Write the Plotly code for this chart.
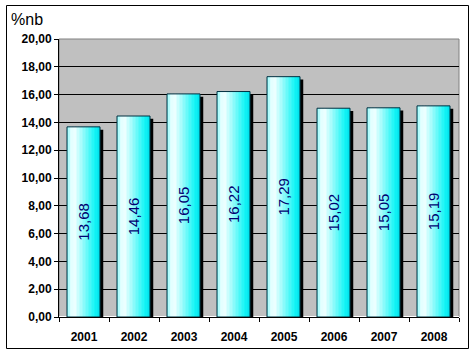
import plotly.graph_objects as go

years = ["2001", "2002", "2003", "2004", "2005", "2006", "2007", "2008"]
values = [13.68, 14.46, 16.05, 16.22, 17.29, 15.02, 15.05, 15.19]
y_title = "%nb"

W = 0.66
LEFT = -0.34
N = 22
stops = [(0.0, (120, 250, 250)), (0.12, (225, 255, 255)), (0.25, (235, 255, 255)),
         (0.85, (20, 245, 245)), (1.0, (0, 225, 235))]


def col(t):
    for (a, ca), (b, cb) in zip(stops[:-1], stops[1:]):
        if a <= t <= b:
            f = (t - a) / (b - a)
            c = [round(ca[k] + (cb[k] - ca[k]) * f) for k in range(3)]
            return f"rgb({c[0]},{c[1]},{c[2]})"
    return "rgb(0,255,255)"


fig = go.Figure()
# shadow
fig.add_trace(go.Bar(x=years, y=[v - 0.2 for v in values], width=W,
                     offset=LEFT + 0.065, marker=dict(color="#000000", line_width=0),
                     hoverinfo="skip"))
sw = W / N
for i in range(N):
    fig.add_trace(go.Bar(x=years, y=values, width=sw * 1.05, offset=LEFT + i * sw,
                         marker=dict(color=col((i + 0.5) / N), line_width=0),
                         hoverinfo="skip"))
# outline + labels
fig.add_trace(go.Bar(x=years, y=values, width=W, offset=LEFT,
                     marker=dict(color="rgba(0,0,0,0)", line=dict(color="#003040", width=1)),
                     texttemplate="%{y:.2f}", textposition="inside", textangle=-90,
                     insidetextanchor="middle", constraintext="none",
                     textfont=dict(family="Liberation Sans, Arial", size=15, color="#000070")))

fig.update_layout(
    width=474, height=354, barmode="overlay", showlegend=False,
    margin=dict(l=59, r=15, t=39, b=37),
    paper_bgcolor="white", plot_bgcolor="#c0c0c0",
    separators=",.",
    font=dict(family="Liberation Sans, Arial", color="black"),
    xaxis=dict(type="category", showline=True, linecolor="black", linewidth=1,
               ticks="outside", tickson="boundaries", ticklen=4, tickcolor="black",
               ticklabelstandoff=9, automargin=False,
               tickfont=dict(size=12, family="Liberation Sans, Arial", weight="bold"),
               showgrid=False, range=[-0.5, 7.5]),
    yaxis=dict(range=[0, 20], dtick=2, tickformat=".2f", showline=True, linecolor="black",
               linewidth=1, ticks="outside", ticklen=4, tickcolor="black",
               gridcolor="black", gridwidth=1, automargin=False,
               tickfont=dict(size=12, family="Liberation Sans, Arial", weight="bold")),
    shapes=[
        dict(type="rect", xref="paper", yref="paper", x0=0, x1=1, y0=0, y1=1,
             line=dict(color="#808080", width=1), layer="below"),
        dict(type="rect", xref="paper", yref="paper",
             x0=(6.5 - 59) / 400, x1=(468.5 - 59) / 400,
             y0=(317 - 348.5) / 278, y1=(317 - 5.5) / 278,
             line=dict(color="black", width=1)),
    ],
    annotations=[dict(text=y_title, xref="paper", yref="paper",
                      x=(9 - 59) / 400, y=(317 - 19) / 278, xanchor="left", yanchor="middle",
                      showarrow=False, font=dict(size=16, family="Liberation Sans, Arial"))],
)
fig.write_html("out.html")
